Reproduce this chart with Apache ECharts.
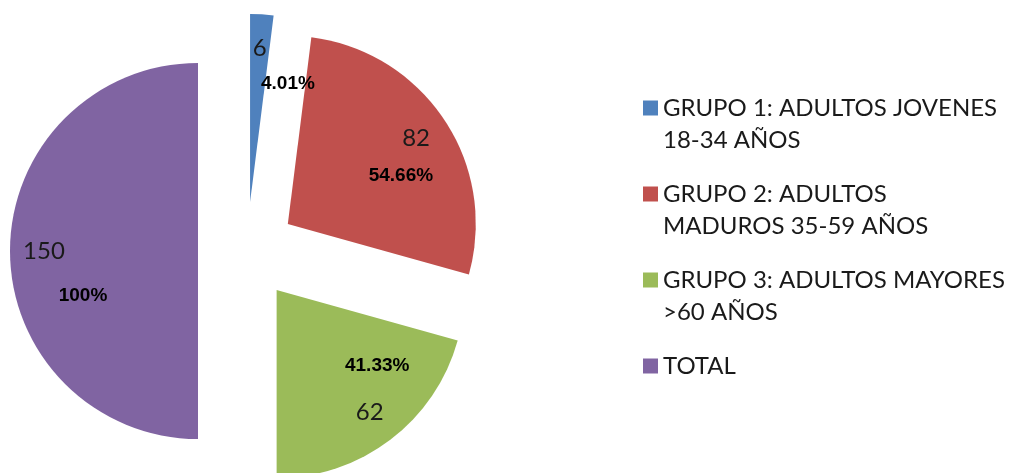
<!DOCTYPE html>
<html>
<head>
<meta charset="utf-8">
<title>Grupos de edad</title>
<script src="https://cdn.jsdelivr.net/npm/echarts@6/dist/echarts.min.js"></script>
<style>
  html, body { margin: 0; padding: 0; background: #fff; }
  #chart { width: 1015px; height: 473px; }
</style>
</head>
<body>
<div id="chart"></div>
<script>
// data
const categories = [
  'GRUPO 1: ADULTOS JOVENES\n18-34 AÑOS',
  'GRUPO 2: ADULTOS\nMADUROS 35-59 AÑOS',
  'GRUPO 3: ADULTOS MAYORES\n>60 AÑOS',
  'TOTAL'
];
const values = [6, 82, 62, 150];
const percentLabels = ['4.01%', '54.66%', '41.33%', '100%'];

// styling
const colors = ['#4F81BD', '#C0504D', '#9BBB59', '#8064A2'];
const pctOffsets = [[30, 6], [9, 21], [25, -24], [10, 45]];

const FONT = 'Lato';
const CENTER = [247, 251];
const RADIUS = 188;
const EXPLODE = 49;

const chart = echarts.init(document.getElementById('chart'));

function pieData(withColor) {
  return categories.map((name, i) => ({
    name,
    value: values[i],
    selected: true,
    itemStyle: { color: withColor ? colors[i] : 'rgba(0,0,0,0)' }
  }));
}

const baseSeries = {
  type: 'pie',
  center: CENTER,
  startAngle: 90,
  clockwise: true,
  selectedMode: 'multiple',
  selectedOffset: EXPLODE,
  animation: false,
  labelLine: { show: false },
  emphasis: { disabled: true }
};

chart.setOption({
  backgroundColor: '#fff',
  legend: {
    orient: 'vertical',
    left: 643,
    top: 60,
    padding: 0,
    itemWidth: 15,
    itemHeight: 15,
    itemGap: -10,
    icon: 'rect',
    selectedMode: false,
    // blank first line keeps the icon level with the first text line
    formatter: name => name.indexOf('\n') >= 0 ? '\n' + name : '\n' + name + '\n',
    textStyle: {
      fontFamily: FONT,
      fontSize: 24,
      lineHeight: 32,
      color: '#1a1a1a'
    }
  },
  series: [
    Object.assign({}, baseSeries, {
      name: 'pie',
      radius: [0, RADIUS],
      label: { show: false },
      itemStyle: { borderWidth: 0 },
      data: pieData(true)
    }),
    // value labels
    Object.assign({}, baseSeries, {
      name: 'valores',
      silent: true,
      radius: [114, RADIUS],
      label: {
        show: true,
        position: 'inside',
        formatter: p => String(p.value),
        fontFamily: FONT,
        fontSize: 24,
        color: '#1a1a1a'
      },
      data: pieData(false)
    }),
    // percent labels
    Object.assign({}, baseSeries, {
      name: 'porcentajes',
      silent: true,
      radius: [56, RADIUS],
      label: {
        show: true,
        position: 'inside',
        formatter: p => percentLabels[p.dataIndex],
        fontFamily: 'Liberation Sans',
        fontWeight: 'bold',
        fontSize: 19,
        color: '#000'
      },
      labelLayout: p => ({ dx: pctOffsets[p.dataIndex][0], dy: pctOffsets[p.dataIndex][1] }),
      data: pieData(false)
    })
  ]
});
</script>
</body>
</html>
